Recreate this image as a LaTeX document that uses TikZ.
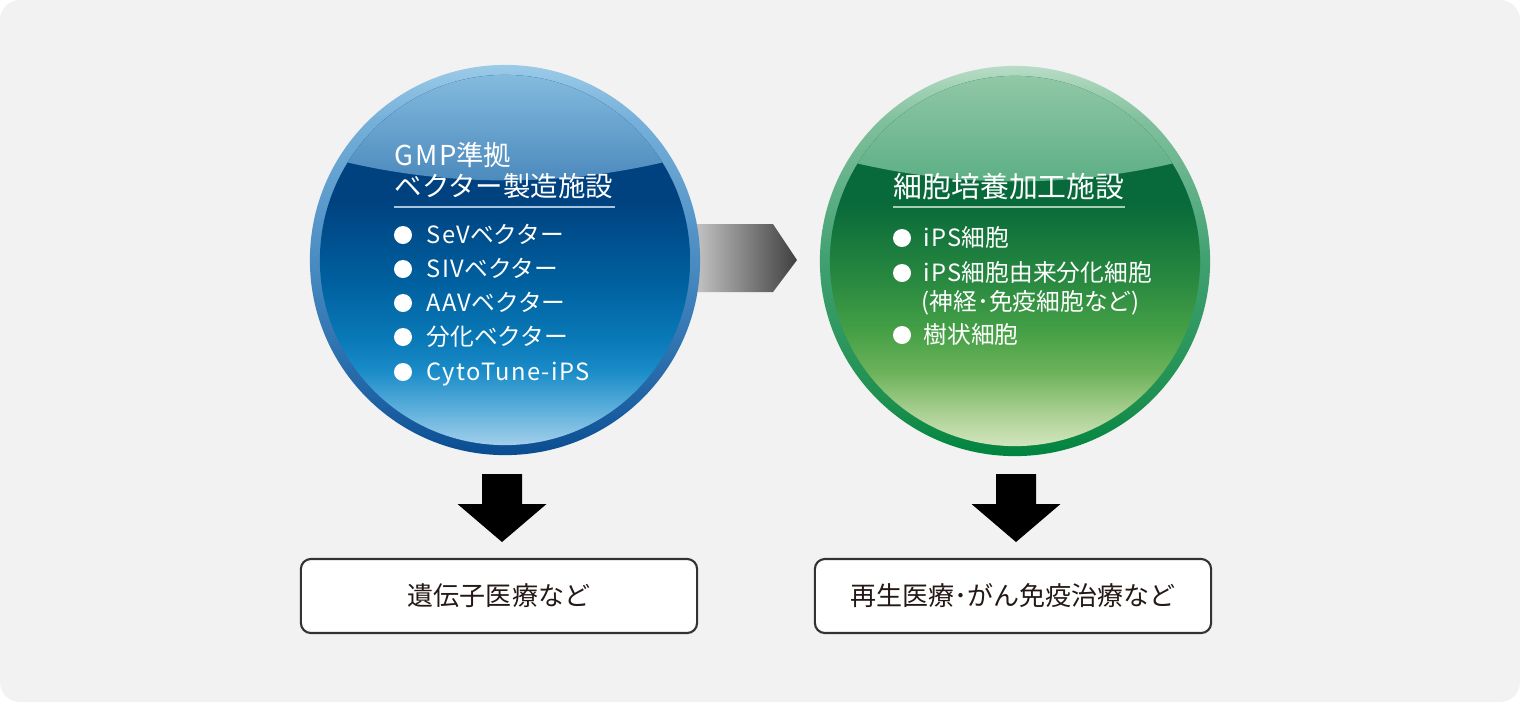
\documentclass[tikz,border=0pt]{standalone}
\usepackage{fontspec}
\setmainfont{Noto Sans CJK JP}
\newfontfamily\lat{Noto Sans CJK JP}[LetterSpace=6]
\usepackage{xcolor}
\usetikzlibrary{calc, positioning}

\definecolor{bgc}{HTML}{F2F2F2}
\definecolor{boxc}{HTML}{333333}
\definecolor{textc}{HTML}{231815}
\definecolor{gl}{HTML}{CACACA}
\definecolor{gr}{HTML}{404040}
\definecolor{bd1}{HTML}{A2CFEA}
\definecolor{bd2}{HTML}{5FB0DC}
\definecolor{bd3}{HTML}{1A8CC8}
\definecolor{bd4}{HTML}{0A7AB8}
\definecolor{bd5}{HTML}{00609F}
\definecolor{bd6}{HTML}{004280}
\definecolor{br1}{HTML}{0A4C90}
\definecolor{br2}{HTML}{1F63A5}
\definecolor{br3}{HTML}{4A8CC2}
\definecolor{br4}{HTML}{76B0DA}
\definecolor{br5}{HTML}{9CCBE8}
\definecolor{bh1}{HTML}{86BDDF}
\definecolor{bh2}{HTML}{4A88BC}
\definecolor{gd1}{HTML}{D3E5BF}
\definecolor{gd2}{HTML}{A8CF90}
\definecolor{gd3}{HTML}{6CB25A}
\definecolor{gd4}{HTML}{45A046}
\definecolor{gd5}{HTML}{2A8A40}
\definecolor{gd6}{HTML}{08693A}
\definecolor{gr1}{HTML}{00843F}
\definecolor{gr2}{HTML}{1E9050}
\definecolor{gr3}{HTML}{3FA070}
\definecolor{gr4}{HTML}{80C09C}
\definecolor{gr5}{HTML}{B8DCC6}
\definecolor{gh1}{HTML}{94C9A8}
\definecolor{gh2}{HTML}{5AAE84}
\definecolor{ulb}{HTML}{A9C4DD}
\definecolor{ulg}{HTML}{A8CDB5}

\pgfdeclareverticalshading{bluedisk}{100bp}{color(0bp)=(bd1); color(25bp)=(bd1); color(29.7bp)=(bd2); color(35bp)=(bd3); color(39bp)=(bd4); color(47bp)=(bd5); color(58bp)=(bd6); color(100bp)=(bd6)}
\pgfdeclareverticalshading{bluering}{100bp}{color(0bp)=(br1); color(25bp)=(br1); color(32bp)=(br2); color(50bp)=(br3); color(68bp)=(br4); color(75bp)=(br5); color(100bp)=(br5)}
\pgfdeclareverticalshading{greendisk}{100bp}{color(0bp)=(gd1); color(25bp)=(gd1); color(29.7bp)=(gd2); color(35bp)=(gd3); color(40.5bp)=(gd4); color(47bp)=(gd5); color(58bp)=(gd6); color(100bp)=(gd6)}
\pgfdeclareverticalshading{greenring}{100bp}{color(0bp)=(gr1); color(25bp)=(gr1); color(32bp)=(gr2); color(50bp)=(gr3); color(68bp)=(gr4); color(75bp)=(gr5); color(100bp)=(gr5)}

\tikzset{
  item/.style={anchor=west, inner sep=0pt, text height=.8em, text depth=.3em, text=white, font=\fontsize{6.75}{8}\selectfont},
  ttl/.style={item, font=\fontsize{7.8}{9}\selectfont},
  dot/.style={circle, fill=white, inner sep=0pt, minimum size=0.18cm},
  res/.style={draw=boxc, line width=0.6pt, fill=white, rounded corners=0.1cm, minimum width=3.96cm, minimum height=0.74cm, text=textc, font=\fontsize{7.4}{9}\selectfont},
}

\begin{document}
\begin{tikzpicture}[x=0.01cm, y=-0.01cm]
                        \fill[white] (0,0) rectangle (1520,702);
                        \fill[bgc, rounded corners=0.2cm] (0,0) rectangle (1520,702);
                        \coordinate (g) at (690,224);
                        \shade[left color=gl, right color=gr] (g) -- ++(83,0) -- ++(24,36) -- ++(-24,32) -- ++(-83,0) -- cycle;
                        \coordinate (c1) at (505,260);
                        \coordinate (c2) at (1015,261);
                        \shade[shading=bluering] (c1) circle [radius=1.95cm];
                        \shade[shading=bluedisk] (c1) circle [radius=1.85cm];
                        \begin{scope}
                            \clip (c1) circle [radius=1.85cm];
                            \clip (505,-514) circle [radius=6.94cm];
                            \shade[top color=bh1, bottom color=bh2] (300,70) rectangle (710,185);
                        \end{scope}
                        \shade[shading=greenring] (c2) circle [radius=1.95cm];
                        \shade[shading=greendisk] (c2) circle [radius=1.85cm];
                        \begin{scope}
                            \clip (c2) circle [radius=1.85cm];
                            \clip (1015,-513) circle [radius=6.94cm];
                            \shade[top color=gh1, bottom color=gh2] (810,70) rectangle (1220,186);
                        \end{scope}
                        \node[ttl] (t1) at (394,157) {{\lat GMP}準拠};
                        \node[ttl] (t2) at (394,188) {ベクター製造施設};
                        \draw[ulb, line width=0.45pt] (394,207) -- (615,207);
                        \node[dot] (b1) at (403,235) {};
                        \node[dot] (b2) at (403,269) {};
                        \node[dot] (b3) at (403,303) {};
                        \node[dot] (b4) at (403,337) {};
                        \node[dot] (b5) at (403,372) {};
                        \node[item] (s1) at (426,235) {{\lat SeV}ベクター};
                        \node[item] (s2) at (426,269) {{\lat SIV}ベクター};
                        \node[item] (s3) at (426,303) {{\lat AAV}ベクター};
                        \node[item] (s4) at (426,337) {分化ベクター};
                        \node[item] (s5) at (426,372) {{\lat CytoTune-iPS}};
                        \node[ttl, font=\fontsize{8.2}{9}\selectfont] (t3) at (893,189) {細胞培養加工施設};
                        \draw[ulg, line width=0.45pt] (893,207) -- (1125,207);
                        \node[dot] (b6) at (902,238) {};
                        \node[dot] (b7) at (902,273) {};
                        \node[dot] (b8) at (902,335) {};
                        \node[item] (s6) at (923,238) {{\lat iPS}細胞};
                        \node[item] (s7) at (923,273) {{\lat iPS}細胞由来分化細胞};
                        \node[item] (s8) at (921,302) {(神経･免疫細胞など)};
                        \node[item] (s9) at (923,335) {樹状細胞};
                        \coordinate (d1) at (502,474);
                        \coordinate (d2) at (1016,474);
                        \fill (d1) ++(-20,0) -- ++(40,0) -- ++(0,30) -- ++(24.5,0) -- ++(-44.5,38) -- ++(-44.5,-38) -- ++(24.5,0) -- cycle;
                        \fill (d2) ++(-20,0) -- ++(40,0) -- ++(0,30) -- ++(24.5,0) -- ++(-44.5,38) -- ++(-44.5,-38) -- ++(24.5,0) -- cycle;
                        \node[res] (r1) at (499,596) {遺伝子医療など};
                        \node[res] (r2) at (1013,596) {再生医療･がん免疫治療など};
                    \end{tikzpicture}
\end{document}
